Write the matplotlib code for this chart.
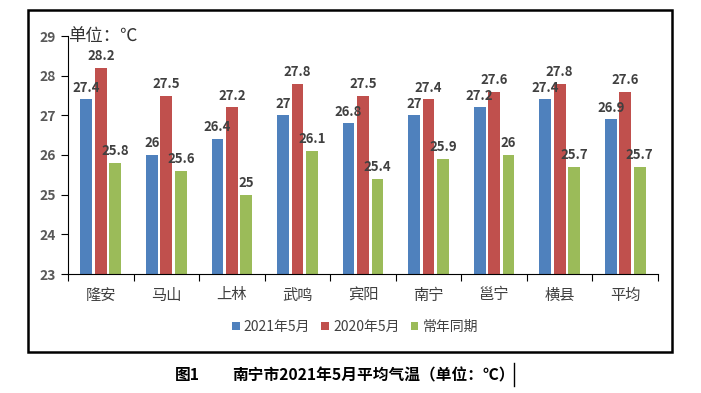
import matplotlib.pyplot as plt
import numpy as np
from matplotlib.patches import Rectangle
from matplotlib.lines import Line2D

plt.rcParams['font.family'] = ['Noto Sans CJK SC', 'DejaVu Sans']

stations = ['隆安', '马山', '上林', '武鸣', '宾阳', '南宁', '邕宁', '横县', '平均']
may_2021 = [27.4, 26.0, 26.4, 27.0, 26.8, 27.0, 27.2, 27.4, 26.9]
may_2020 = [28.2, 27.5, 27.2, 27.8, 27.5, 27.4, 27.6, 27.8, 27.6]
normal = [25.8, 25.6, 25.0, 26.1, 25.4, 25.9, 26.0, 25.7, 25.7]
series_names = ['2021年5月', '2020年5月', '常年同期']
colors = ['#4F81BD', '#C0504D', '#9BBB59']

fig = plt.figure(figsize=(7.01, 3.93), dpi=100)
ax = fig.add_axes([68 / 701, 1 - 274 / 393, 590 / 701, 238 / 393])

x = np.arange(len(stations))
offsets = [-0.22, 0.0, 0.22]
for vals, off, c, name in zip([may_2021, may_2020, normal], offsets, colors, series_names):
    ax.bar(x + off, np.array(vals) - 23, bottom=23, width=0.18, color=c, label=name)
    for xi, v in zip(x + off, vals):
        ax.text(xi, v + 0.12, f'{v:g}', ha='center', va='bottom', fontsize=9.5,
                fontweight='bold', color='#404040')

ax.set_ylim(23, 29)
ax.set_xlim(-0.5, len(stations) - 0.5)
ax.set_yticks(range(23, 30))
ax.set_xticks(np.arange(-0.5, len(stations), 1.0))
ax.set_xticklabels([])
ax.set_xticks(x, minor=True)
ax.set_xticklabels(stations, minor=True, fontsize=11, color='#404040')
ax.tick_params(axis='x', which='minor', length=0, pad=9)
ax.tick_params(axis='x', which='major', length=5, color='black')
ax.tick_params(axis='y', length=5, labelsize=10, labelcolor='#595959')
for lab in ax.get_yticklabels():
    lab.set_fontweight('bold')
for s in ['top', 'right']:
    ax.spines[s].set_visible(False)

ax.text(0.0, 1.0, '单位：℃', transform=ax.transAxes, ha='left', va='center',
        fontsize=12.5, color='#333333')

fig.legend(loc='center', bbox_to_anchor=(355 / 701, 1 - 327 / 393), ncol=3, frameon=False,
           fontsize=10, handlelength=0.55, handleheight=0.55, columnspacing=0.8,
           handletextpad=0.3, labelcolor='#404040')

fig.patches.append(Rectangle((28 / 701, 1 - 352 / 393), 644 / 701, 342 / 393,
                             transform=fig.transFigure, fill=False, edgecolor='black', linewidth=1.8))

fig.text(175 / 701, 1 - 375 / 393, '图1', ha='left', va='center', fontsize=11.3, fontweight='bold')
fig.text(232 / 701, 1 - 375 / 393, '南宁市2021年5月平均气温（单位：℃）', ha='left', va='center',
         fontsize=11.3, fontweight='bold')
fig.lines.append(Line2D([514 / 701, 514 / 701], [1 - 386 / 393, 1 - 363 / 393],
                        transform=fig.transFigure, color='black', linewidth=1))

fig.savefig('out.png', dpi=100)
